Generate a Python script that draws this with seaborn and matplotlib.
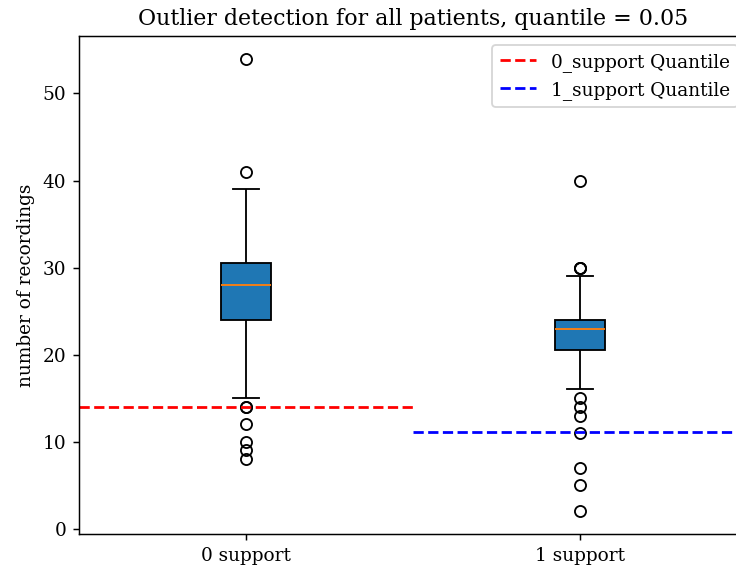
import numpy as np
import pandas as pd
import matplotlib
matplotlib.use("Agg")
import matplotlib.pyplot as plt
import seaborn as sns

plt.rcParams["font.family"] = ["DejaVu Serif"]

# Recordings per patient, stored as (value, how many patients) pairs
groups = ["0 support", "1 support"]

support0_values = [8, 9, 10, 12, 14, 15, 16, 17, 18, 19, 20, 21, 22, 23, 24, 25,
                   26, 27, 28, 29, 30, 31, 32, 33, 34, 35, 36, 37, 38, 39, 41, 54]
support0_counts = [1, 1, 1, 1, 2, 1, 1, 1, 2, 2, 2, 2, 3, 4, 3, 5,
                   6, 6, 8, 10, 12, 4, 3, 3, 3, 2, 2, 2, 2, 2, 1, 1]

support1_values = [2, 5, 7, 11, 13, 14, 15, 16, 17, 18, 19, 20, 22, 23, 24, 25,
                   26, 27, 28, 29, 30, 40]
support1_counts = [1, 1, 1, 1, 1, 1, 1, 1, 1, 2, 2, 3, 7, 10, 14, 4,
                   3, 2, 1, 1, 3, 1]

quantile = 0.05

rec0 = np.repeat(support0_values, support0_counts)
rec1 = np.repeat(support1_values, support1_counts)

df = pd.DataFrame({
    "group": [groups[0]] * len(rec0) + [groups[1]] * len(rec1),
    "recordings": np.concatenate([rec0, rec1]),
})

DPI = 133
W, H = 736, 574
fig = plt.figure(figsize=(W / DPI, H / DPI), dpi=DPI)
ax = fig.add_axes([79 / W, 40 / H, 668 / W, 498 / H])

sns.boxplot(
    data=df, x="group", y="recordings", ax=ax,
    width=0.15, color="#1f77b4", saturation=1, linecolor="black",
    linewidth=1.0, whis=1.5,
    medianprops={"color": "#ff7f0e", "linewidth": 1.0},
    flierprops={"marker": "o", "markerfacecolor": "none",
                "markeredgecolor": "black", "markersize": 6,
                "markeredgewidth": 1.0},
    capwidths=0.075,
)
for cont in ax.containers:
    for med in getattr(cont, "medians", []):
        med.set_color("#ff7f0e")

q0 = np.quantile(rec0, quantile)
q1 = np.quantile(rec1, quantile)
ax.axhline(q0, xmin=0.0, xmax=0.5, color="red", linestyle="--",
           linewidth=1.5, label="0_support Quantile")
ax.axhline(q1, xmin=0.5, xmax=1.0, color="blue", linestyle="--",
           linewidth=1.5, label="1_support Quantile")

ax.set_xlim(-0.5, 1.5)
ax.set_ylim(-0.6, 56.6)
ax.set_xlabel("")
ax.set_ylabel("number of recordings")
ax.set_title(f"Outlier detection for all patients, quantile = {quantile}")
ax.legend(loc="upper right")

fig.savefig("out.png", dpi=DPI)
